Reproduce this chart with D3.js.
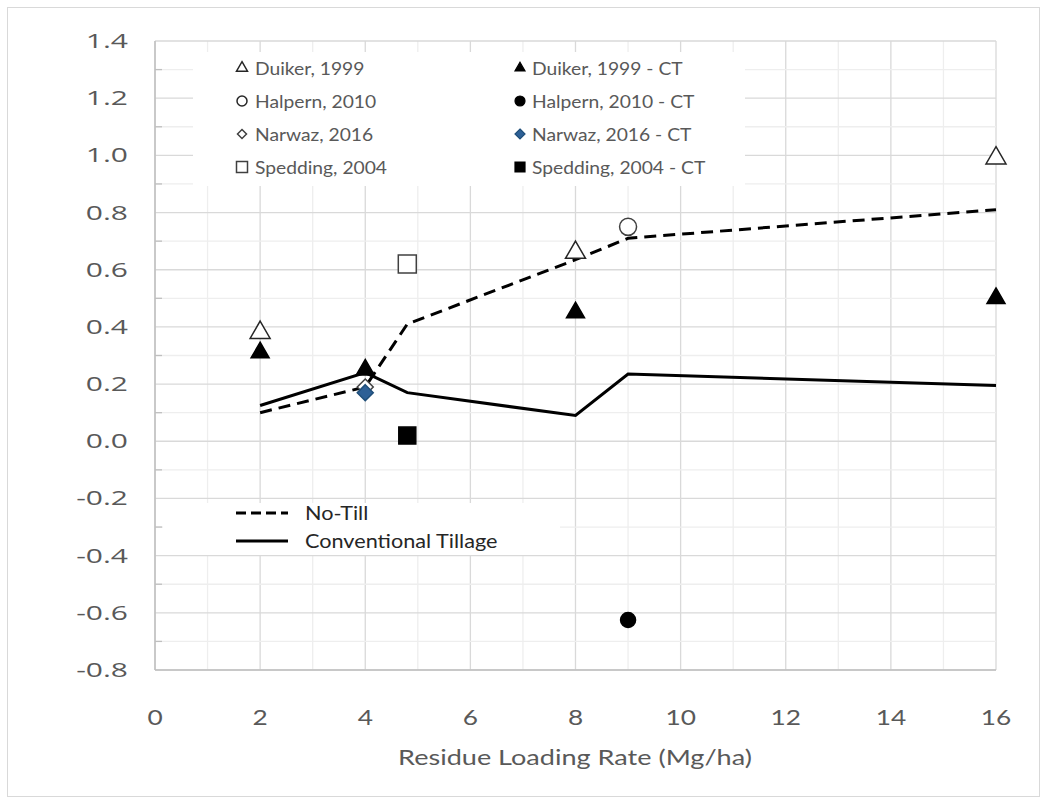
<!DOCTYPE html>
<html>
<head>
<meta charset="utf-8">
<script src="https://cdn.jsdelivr.net/npm/d3@7"></script>
<style>
  body { margin: 0; background: #fff; }
  svg { display: block; }
</style>
</head>
<body>
<svg id="chart" width="1047" height="803"></svg>
<script>
// axis ticks
const xTicks = [0, 2, 4, 6, 8, 10, 12, 14, 16];
const yTicks = [-0.8, -0.6, -0.4, -0.2, 0.0, 0.2, 0.4, 0.6, 0.8, 1.0, 1.2, 1.4];

// fitted lines
const lineX = [2, 4, 4.8, 8, 9, 16];
const noTillY = [0.10, 0.19, 0.41, 0.635, 0.71, 0.81];
const convTillY = [0.125, 0.24, 0.17, 0.09, 0.235, 0.195];

// study points [x, y]
const duikerNT = [[2, 0.38], [8, 0.66], [16, 0.99]];
const duikerCT = [[2, 0.31], [4, 0.25], [8, 0.45], [16, 0.50]];
const halpernNT = [[9, 0.75]];
const halpernCT = [[9, -0.625]];
const narwazNT = [[4, 0.19]];
const narwazCT = [[4, 0.17]];
const speddingNT = [[4.8, 0.62]];
const speddingCT = [[4.8, 0.02]];

const studyLabels = ["Duiker, 1999", "Halpern, 2010", "Narwaz, 2016", "Spedding, 2004"];
const studyLabelsCT = ["Duiker, 1999 - CT", "Halpern, 2010 - CT", "Narwaz, 2016 - CT", "Spedding, 2004 - CT"];
const lineLabels = ["No-Till", "Conventional Tillage"];

const svg = d3.select("#chart");
const pLeft = 155, pRight = 996, pTop = 41, pBottom = 670;

const x = d3.scaleLinear().domain([0, 16]).range([pLeft, pRight]);
const y = d3.scaleLinear().domain([-0.8, 1.4]).range([pBottom, pTop]);

// outer chart border
svg.append("rect")
    .attr("x", 7.5).attr("y", 7.5)
    .attr("width", 1032).attr("height", 789)
    .attr("fill", "#fff").attr("stroke", "#d9d9d9");

// gridlines: minor every 1 / 0.1, major every 2 / 0.2
const grid = svg.append("g");
d3.range(0, 17).forEach(v => {
    grid.append("line")
        .attr("x1", x(v)).attr("x2", x(v))
        .attr("y1", pTop).attr("y2", pBottom)
        .attr("stroke", v % 2 === 0 ? "#d9d9d9" : "#eeeeee")
        .attr("stroke-width", 1.3);
});
d3.range(-8, 15).forEach(k => {
    grid.append("line")
        .attr("x1", pLeft).attr("x2", pRight)
        .attr("y1", y(k / 10)).attr("y2", y(k / 10))
        .attr("stroke", k % 2 === 0 ? "#d9d9d9" : "#eeeeee")
        .attr("stroke-width", 1.3);
});

// axis lines
svg.append("line").attr("x1", pLeft).attr("x2", pLeft).attr("y1", pTop).attr("y2", pBottom)
    .attr("stroke", "#bfbfbf").attr("stroke-width", 1.5);
svg.append("line").attr("x1", pLeft).attr("x2", pRight).attr("y1", pBottom).attr("y2", pBottom)
    .attr("stroke", "#bfbfbf").attr("stroke-width", 1.5);
// minor inside ticks on y axis
d3.range(-8, 15).filter(k => k % 2 !== 0).forEach(k => {
    svg.append("line").attr("x1", pLeft).attr("x2", pLeft + 7)
        .attr("y1", y(k / 10)).attr("y2", y(k / 10))
        .attr("stroke", "#bfbfbf").attr("stroke-width", 1.3);
});

// legend backgrounds (cover grid)
svg.append("rect").attr("x", 193).attr("y", 52).attr("width", 552).attr("height", 134).attr("fill", "#fff");
svg.append("rect").attr("x", 163).attr("y", 503).attr("width", 397).attr("height", 52).attr("fill", "#fff");

// stretched text helper (the source renders its font wide)
function addText(tx, ty, t, size, sx, anchor, color) {
    return svg.append("text")
        .attr("transform", `translate(${tx},${ty}) scale(${sx},1)`)
        .attr("text-anchor", anchor)
        .attr("font-family", "Lato, sans-serif")
        .attr("font-size", size)
        .attr("fill", color)
        .text(t);
}

// tick labels
yTicks.forEach(v => {
    addText(128, y(v) + 7, v.toFixed(1), 20, 1.5, "end", "#595959")
        .attr("font-family", "Open Sans, sans-serif");
});
xTicks.forEach(v => addText(x(v), 725, v, 21, 1.25, "middle", "#595959"));
addText(575, 765, "Residue Loading Rate (Mg/ha)", 22, 1.23, "middle", "#595959");

// lines
const lineGen = d3.line().x(d => x(d[0])).y(d => y(d[1]));
svg.append("path")
    .attr("d", lineGen(lineX.map((v, i) => [v, noTillY[i]])))
    .attr("fill", "none").attr("stroke", "#000").attr("stroke-width", 3)
    .attr("stroke-dasharray", "12,7");
svg.append("path")
    .attr("d", lineGen(lineX.map((v, i) => [v, convTillY[i]])))
    .attr("fill", "none").attr("stroke", "#000").attr("stroke-width", 3);

// marker shapes
const diamondPath = s => `M0,${-s}L${s},0L0,${s}L${-s},0Z`;
const shapes = {
    tri: s => d3.symbol(d3.symbolTriangle, s * s * 0.433)(),
    circle: s => d3.symbol(d3.symbolCircle, Math.PI * s * s / 4)(),
    diamond: s => diamondPath(s / 2),
    square: s => `M${-s / 2},${-s / 2}h${s}v${s}h${-s}Z`
};

function drawPoints(data, shape, size, fill, stroke) {
    svg.append("g").selectAll("path")
        .data(data)
        .join("path")
        .attr("transform", d => `translate(${x(d[0])},${y(d[1])})`)
        .attr("d", shapes[shape](size))
        .attr("fill", fill)
        .attr("stroke", stroke)
        .attr("stroke-width", 1.5);
}

drawPoints(narwazNT, "diamond", 16, "#fff", "#404040");
drawPoints(narwazCT, "diamond", 16, "#2e6096", "#1f4e79");
drawPoints(duikerNT, "tri", 20, "#fff", "#262626");
drawPoints(duikerCT, "tri", 18, "#000", "#000");
drawPoints(halpernNT, "circle", 17, "#fff", "#404040");
drawPoints(halpernCT, "circle", 15, "#000", "#000");
drawPoints(speddingNT, "square", 18, "#fff", "#404040");
drawPoints(speddingCT, "square", 17, "#000", "#000");

// top legend
const legendRows = [68, 101, 134, 167];
const ntMarks = [["tri", 11, "#fff", "#262626"], ["circle", 10, "#fff", "#262626"], ["diamond", 9, "#fff", "#404040"], ["square", 11, "#fff", "#404040"]];
const ctMarks = [["tri", 10, "#000", "#000"], ["circle", 10, "#000", "#000"], ["diamond", 10, "#2e6096", "#1f4e79"], ["square", 10, "#000", "#000"]];
studyLabels.forEach((t, i) => {
    const m = ntMarks[i];
    svg.append("path").attr("transform", `translate(242,${legendRows[i]})`)
        .attr("d", shapes[m[0]](m[1])).attr("fill", m[2]).attr("stroke", m[3]).attr("stroke-width", 1.5);
    addText(255, legendRows[i] + 7, t, 18, 1.07, "start", "#595959");
});
studyLabelsCT.forEach((t, i) => {
    const m = ctMarks[i];
    svg.append("path").attr("transform", `translate(520,${legendRows[i]})`)
        .attr("d", shapes[m[0]](m[1])).attr("fill", m[2]).attr("stroke", m[3]).attr("stroke-width", 1.2);
    addText(532, legendRows[i] + 7, t, 18, 1.07, "start", "#595959");
});

// line legend
const lineRows = [513, 541];
lineLabels.forEach((t, i) => {
    svg.append("line")
        .attr("x1", 236).attr("x2", 288)
        .attr("y1", lineRows[i]).attr("y2", lineRows[i])
        .attr("stroke", "#000").attr("stroke-width", 3)
        .attr("stroke-dasharray", i === 0 ? "10,5" : null);
    addText(305, lineRows[i] + 7, t, 19, 1.14, "start", "#262626");
});
</script>
</body>
</html>
